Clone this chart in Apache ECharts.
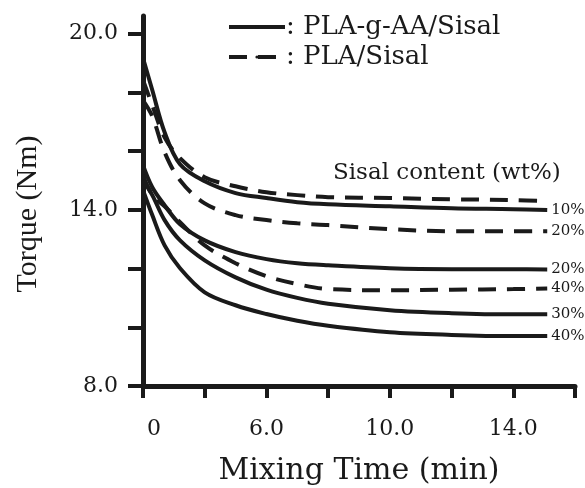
<!DOCTYPE html>
<html>
<head>
<meta charset="utf-8">
<script src="https://cdn.jsdelivr.net/npm/echarts@6/dist/echarts.min.js"></script>
<style>
  html, body { margin: 0; padding: 0; background: #fff; }
  #main { width: 585px; height: 488px; }
</style>
</head>
<body>
<div id="main"></div>
<script>
// mixing time (min); the plot starts at 2 min, which the figure labels "0"
var timeMin = [2, 2.3, 2.7, 3.2, 4, 5, 6, 7, 8, 10, 12, 14, 15.1];

// torque (Nm), PLA-g-AA/Sisal (solid)
var graft10 = [19.17, 18.08, 16.64, 15.55, 14.97, 14.57, 14.40, 14.26, 14.19, 14.12, 14.05, 14.02, 13.99];
var graft20 = [15.52, 14.77, 14.16, 13.51, 12.96, 12.56, 12.32, 12.18, 12.11, 12.01, 11.98, 11.98, 11.97];
var graft30 = [15.01, 14.50, 13.65, 12.96, 12.28, 11.70, 11.28, 11.00, 10.80, 10.58, 10.48, 10.44, 10.44];
var graft40 = [14.67, 13.82, 12.79, 12.01, 11.19, 10.75, 10.45, 10.22, 10.05, 9.83, 9.74, 9.70, 9.70];

// torque (Nm), PLA/Sisal (dashed)
var pla10 = [18.42, 17.56, 16.47, 15.76, 15.11, 14.80, 14.60, 14.50, 14.43, 14.40, 14.36, 14.33, 14.30];
var pla20 = [17.73, 17.19, 15.96, 15.01, 14.22, 13.82, 13.65, 13.54, 13.48, 13.34, 13.27, 13.27, 13.27];
var pla40 = [15.18, 14.50, 14.12, 13.58, 12.79, 12.18, 11.74, 11.47, 11.30, 11.26, 11.28, 11.30, 11.32];

var curves = [
  { name: 'PLA-g-AA/Sisal', values: graft10, label: '10%', dashed: false },
  { name: 'PLA/Sisal', values: pla10, label: '', dashed: true },
  { name: 'PLA/Sisal', values: pla20, label: '20%', dashed: true },
  { name: 'PLA-g-AA/Sisal', values: graft20, label: '20%', dashed: false },
  { name: 'PLA/Sisal', values: pla40, label: '40%', dashed: true },
  { name: 'PLA-g-AA/Sisal', values: graft30, label: '30%', dashed: false },
  { name: 'PLA-g-AA/Sisal', values: graft40, label: '40%', dashed: false }
];

var xTicks = [2, 4, 6, 8, 10, 12, 14, 16];
var xLabels = [2, 6, 10, 14];
var yTicks = [8, 10, 12, 14, 16, 18, 20];
var yLabels = [8, 14, 20];

var ink = '#1a1a1a';
var serif = 'DejaVu Serif';
var dash = [18, 11];

var series = curves.map(function (c) {
  return {
    type: 'line',
    name: c.name,
    data: timeMin.map(function (t, i) { return [t, c.values[i]]; }),
    symbol: 'none',
    smooth: 0.35,
    lineStyle: { color: ink, width: 4, type: c.dashed ? dash : 'solid' },
    itemStyle: { color: ink },
    endLabel: {
      show: c.label !== '',
      formatter: function () { return c.label; },
      distance: 4,
      color: ink,
      fontFamily: serif,
      fontSize: 15
    },
    silent: true
  };
});

var chart = echarts.init(document.getElementById('main'));
chart.setOption({
  backgroundColor: '#fff',
  animation: false,
  grid: { left: 143, right: 10, top: 16, bottom: 102, outerBoundsMode: 'none' },
  title: {
    text: 'Sisal content (wt%)',
    left: 328,
    top: 157,
    textStyle: { fontFamily: serif, fontSize: 23, fontWeight: 'normal', color: ink }
  },
  legend: {
    data: ['PLA-g-AA/Sisal', 'PLA/Sisal'],
    orient: 'vertical',
    left: 227,
    top: 14,
    padding: 0,
    itemWidth: 56,
    itemHeight: 4,
    itemGap: 4,
    selectedMode: false,
    lineStyle: { width: 4 },
    formatter: function (n) { return ': ' + n; },
    textStyle: { fontFamily: serif, fontSize: 26, color: ink, lineHeight: 26, padding: [0, 0, 0, -4] }
  },
  xAxis: {
    type: 'value',
    min: 2,
    max: 16,
    interval: 2,
    name: 'Mixing Time (min)',
    nameLocation: 'middle',
    nameGap: 70,
    nameTextStyle: { fontFamily: serif, fontSize: 30, color: ink },
    axisLine: { lineStyle: { color: ink, width: 5 } },
    axisTick: { customValues: xTicks, length: 12, lineStyle: { color: ink, width: 4 } },
    axisLabel: {
      customValues: xLabels,
      margin: 32,
      fontFamily: serif,
      fontSize: 22,
      color: ink,
      formatter: function (v) { return v === 2 ? '{z|0}' : v.toFixed(1); },
      rich: { z: { fontFamily: serif, fontSize: 22, color: ink, padding: [0, 0, 0, 22] } }
    },
    splitLine: { show: false }
  },
  yAxis: {
    type: 'value',
    min: 8,
    max: 20.6,
    interval: 2,
    name: 'Torque (Nm)',
    nameLocation: 'middle',
    nameGap: 100,
    nameTextStyle: { fontFamily: 'Liberation Serif', fontSize: 30, color: ink, padding: [0, 26, 0, 0] },
    axisLine: { lineStyle: { color: ink, width: 5 } },
    axisTick: { customValues: yTicks, length: 15, lineStyle: { color: ink, width: 4 } },
    axisLabel: {
      customValues: yLabels,
      margin: 25,
      fontFamily: serif,
      fontSize: 22,
      color: ink,
      formatter: function (v) { return v.toFixed(1); }
    },
    splitLine: { show: false }
  },
  series: series
});
</script>
</body>
</html>
